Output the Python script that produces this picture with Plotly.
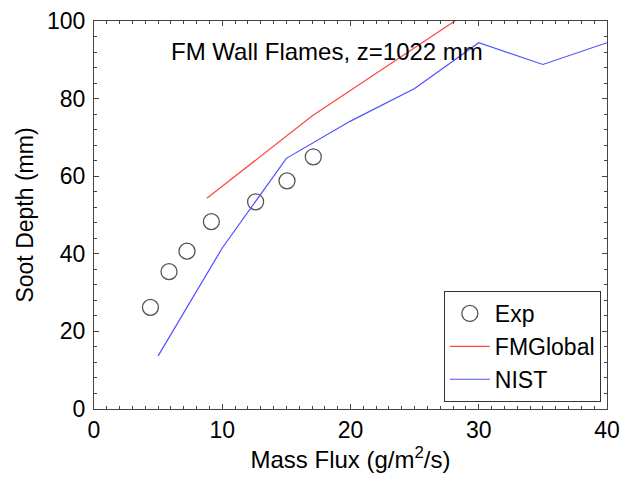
import plotly.graph_objects as go

# Data
exp_x = [4.4, 5.85, 7.25, 9.15, 12.6, 15.05, 17.1]
exp_y = [26.2, 35.4, 40.7, 48.3, 53.4, 58.8, 65.0]

fm_x = [8.8, 17.0, 25.0, 30.0]
fm_y = [54.3, 75.5, 93.1, 104.1]

nist_x = [5, 10, 15, 20, 25, 30, 35, 40]
nist_y = [13.7, 41.5, 64.6, 74.2, 82.6, 94.4, 88.8, 94.4]

x_ticks = [0, 10, 20, 30, 40]
y_ticks = [0, 20, 40, 60, 80, 100]

FONT = "Liberation Sans, Arial, sans-serif"
AX = "#444444"

fig = go.Figure()
fig.add_trace(go.Scatter(
    x=exp_x, y=exp_y, mode="markers", name="Exp",
    marker=dict(symbol="circle-open", size=16, color="#555555", line=dict(width=1.3, color="#555555")),
))
fig.add_trace(go.Scatter(
    x=fm_x, y=fm_y, mode="lines", name="FMGlobal",
    line=dict(color="rgb(255,70,70)", width=1.2),
))
fig.add_trace(go.Scatter(
    x=nist_x, y=nist_y, mode="lines", name="NIST",
    line=dict(color="rgb(80,80,255)", width=1.2),
))

axis_common = dict(
    showgrid=False, zeroline=False, showline=True, linecolor=AX, linewidth=1,
    mirror="ticks", ticks="inside", ticklen=5, tickcolor=AX, tickwidth=1,
    tickfont=dict(family=FONT, size=23, color="black"),
    automargin=False,
)

fig.update_xaxes(
    range=[0, 40], tickvals=x_ticks, ticktext=[str(v) for v in x_ticks],
    minor=dict(dtick=1, ticks="inside", ticklen=3, tickcolor=AX, showgrid=False),
    title=dict(text="Mass Flux (g/m<sup>2</sup>/s)", font=dict(family=FONT, size=24, color="black"), standoff=6),
    **axis_common,
)
fig.update_yaxes(
    range=[0, 100], tickvals=y_ticks, ticktext=[str(v) for v in y_ticks],
    minor=dict(dtick=4, ticks="inside", ticklen=3, tickcolor=AX, showgrid=False),
    title=dict(text="Soot Depth (mm)", font=dict(family=FONT, size=23, color="black"), standoff=6),
    ticklabelstandoff=3,
    **axis_common,
)

fig.add_annotation(
    x=0.454, y=0.922, xref="paper", yref="paper", xanchor="center", yanchor="middle",
    text="FM Wall Flames, z=1022 mm", showarrow=False,
    font=dict(family=FONT, size=24, color="black"),
)

fig.update_layout(
    width=620, height=480,
    margin=dict(l=94, r=13, t=21, b=71),
    paper_bgcolor="white", plot_bgcolor="white",
    showlegend=True,
    legend=dict(
        x=0.988, y=0.018, xanchor="right", yanchor="bottom",
        bgcolor="white", bordercolor="#333333", borderwidth=1,
        font=dict(family=FONT, size=23, color="black"),
        tracegroupgap=0, itemwidth=40,
    ),
)

fig.write_html("out.html")
